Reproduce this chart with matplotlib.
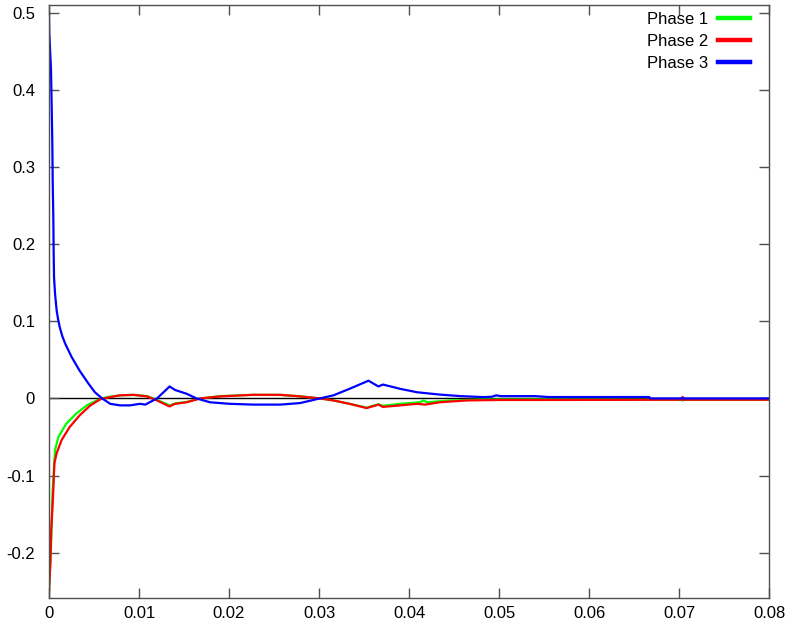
import matplotlib
matplotlib.use("Agg")
import matplotlib.pyplot as plt
from matplotlib.lines import Line2D

# ---- data ----
x_phase1 = [0, 0.0002, 0.0004, 0.00067, 0.00104, 0.0019, 0.003, 0.0042, 0.0053, 0.0064,
            0.0079, 0.0094, 0.0109, 0.0120, 0.0134, 0.0140, 0.0153, 0.0168, 0.0190, 0.0227,
            0.0257, 0.0279, 0.0301, 0.0316, 0.0334, 0.0353, 0.0366, 0.0371, 0.0390, 0.0412,
            0.0416, 0.0420, 0.0446, 0.0482, 0.0550, 0.0703, 0.0704, 0.0705, 0.08]
y_phase1 = [-0.25, -0.2, -0.12, -0.067, -0.05, -0.033, -0.02, -0.009, -0.0026, 0.0017,
            0.004, 0.0045, 0.003, -0.002, -0.009, -0.0065, -0.0045, 0.0, 0.003, 0.0047,
            0.0045, 0.0028, 0.0, -0.0026, -0.007, -0.012, -0.0075, -0.0095, -0.007, -0.005,
            -0.0026, -0.005, -0.0026, -0.0013, -0.0013, -0.0017, -0.003, -0.0017, -0.0017]

x_phase2 = [0, 0.00015, 0.00025, 0.00048, 0.0006, 0.00085, 0.0014, 0.0023, 0.0034, 0.0046,
            0.0057, 0.0068, 0.0079, 0.0094, 0.0109, 0.0120, 0.0134, 0.0140, 0.0153, 0.0168,
            0.0190, 0.0227, 0.0257, 0.0279, 0.0301, 0.0316, 0.0334, 0.0353, 0.0366, 0.0371,
            0.0390, 0.0409, 0.0418, 0.0434, 0.0464, 0.0501, 0.0545, 0.0703, 0.0704, 0.0705, 0.08]
y_phase2 = [-0.251, -0.214, -0.171, -0.119, -0.084, -0.071, -0.054, -0.037, -0.022, -0.009,
            -0.001, 0.0017, 0.004, 0.0047, 0.0026, -0.0026, -0.0104, -0.007, -0.005, 0.0,
            0.0026, 0.0047, 0.0047, 0.0026, 0.0, -0.0026, -0.007, -0.0125, -0.008, -0.011,
            -0.009, -0.007, -0.008, -0.005, -0.0026, -0.002, -0.002, -0.0017, 0.002, -0.0017, -0.0017]

x_phase3 = [0, 0.00003, 0.00022, 0.0003, 0.00037, 0.00041, 0.00048, 0.00052, 0.00056, 0.00067,
            0.00085, 0.00102, 0.0012, 0.0015, 0.0018, 0.0025, 0.0034, 0.0044, 0.0051, 0.0059,
            0.0068, 0.0079, 0.0090, 0.0101, 0.0107, 0.0120, 0.0134, 0.0140, 0.0153, 0.0164,
            0.0179, 0.0201, 0.0227, 0.0257, 0.0279, 0.0301, 0.0316, 0.0334, 0.0355, 0.0366,
            0.0371, 0.0390, 0.0409, 0.0434, 0.0457, 0.0483, 0.0492, 0.0497, 0.0502, 0.0540,
            0.0555, 0.0667, 0.0668, 0.08]
y_phase3 = [0.500, 0.474, 0.427, 0.377, 0.330, 0.282, 0.235, 0.187, 0.157, 0.136,
            0.114, 0.102, 0.092, 0.080, 0.071, 0.054, 0.036, 0.019, 0.008, 0.0,
            -0.007, -0.009, -0.009, -0.007, -0.008, 0.0, 0.0155, 0.011, 0.006, 0.0,
            -0.005, -0.007, -0.008, -0.008, -0.006, 0.0, 0.004, 0.0125, 0.023, 0.0155,
            0.018, 0.0125, 0.008, 0.005, 0.003, 0.0017, 0.0022, 0.004, 0.0030, 0.003,
            0.0018, 0.0018, 0.0, 0.0]

series_names = ["Phase 1", "Phase 2", "Phase 3"]
series_colors = ["#00ff00", "#ff0000", "#0000ff"]

x_ticks = [0, 0.01, 0.02, 0.03, 0.04, 0.05, 0.06, 0.07, 0.08]
x_tick_labels = ["0", "0.01", "0.02", "0.03", "0.04", "0.05", "0.06", "0.07", "0.08"]
y_ticks = [-0.2, -0.1, 0, 0.1, 0.2, 0.3, 0.4, 0.5]
y_tick_labels = ["-0.2", "-0.1", "0", "0.1", "0.2", "0.3", "0.4", "0.5"]

# ---- plot ----
plt.rcParams['font.family'] = ['Liberation Sans', 'DejaVu Sans']
fig = plt.figure(figsize=(7.88, 6.24), dpi=100)
ax = fig.add_axes([49/788, 1-598/624, (769-49)/788, (598-5)/624])

frame_col = "#505050"
ax.axhline(0, color="black", lw=1.0, zorder=1)

xs = [x_phase1, x_phase2, x_phase3]
ys = [y_phase1, y_phase2, y_phase3]
for xv, yv, c in zip(xs, ys, series_colors):
    ax.plot(xv, yv, color=c, lw=1.6, zorder=2)

ax.set_xlim(0, 0.08)
ax.set_ylim(-0.2587, 0.510)
ax.set_xticks(x_ticks)
ax.set_xticklabels(x_tick_labels)
ax.set_yticks(y_ticks)
ax.set_yticklabels(y_tick_labels)
ax.tick_params(direction="in", length=7, width=1, color=frame_col,
               top=True, right=True, labelsize=12, labelcolor="black")
ax.tick_params(axis="y", pad=10)
ax.tick_params(axis="x", pad=6)
for sp in ax.spines.values():
    sp.set_color(frame_col)
    sp.set_linewidth(1)

handles = [Line2D([], [], color=c, lw=3.2) for c in series_colors]
leg = ax.legend(handles, series_names, loc="upper right", frameon=False,
                markerfirst=False, fontsize=12, handlelength=1.92,
                handletextpad=0.6, labelspacing=0.42, borderaxespad=0.3,
                bbox_to_anchor=(1 - 7/720, 1.0 + 5/593))

fig.savefig("out.png", dpi=100)
